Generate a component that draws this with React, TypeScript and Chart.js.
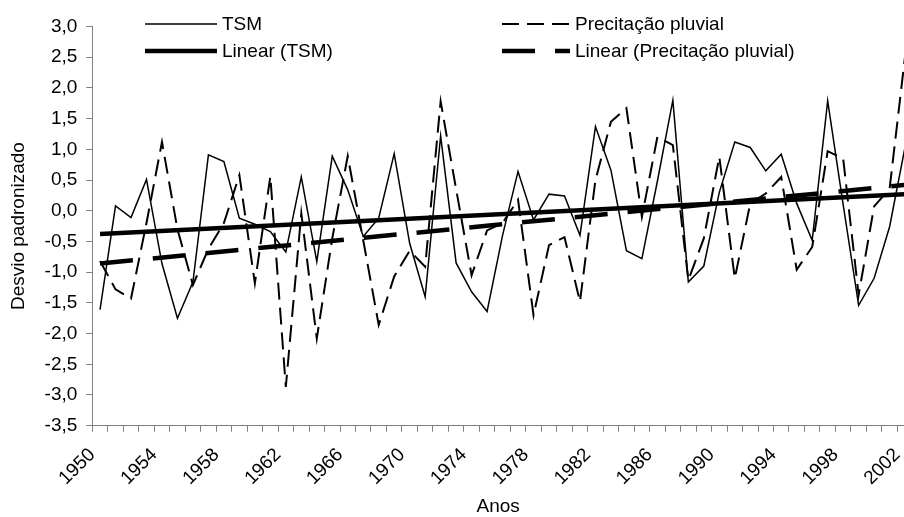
import React, { useEffect, useRef } from 'react';
import { Chart, registerables } from 'chart.js';

Chart.register(...registerables);

// ---- Data ----
const years = [
  1950, 1951, 1952, 1953, 1954, 1955, 1956, 1957, 1958, 1959,
  1960, 1961, 1962, 1963, 1964, 1965, 1966, 1967, 1968, 1969,
  1970, 1971, 1972, 1973, 1974, 1975, 1976, 1977, 1978, 1979,
  1980, 1981, 1982, 1983, 1984, 1985, 1986, 1987, 1988, 1989,
  1990, 1991, 1992, 1993, 1994, 1995, 1996, 1997, 1998, 1999,
  2000, 2001, 2002,
];

const tsm = [
  -1.61, 0.08, -0.11, 0.51, -0.86, -1.75, -1.16, 0.91, 0.8, -0.12,
  -0.22, -0.34, -0.67, 0.55, -0.83, 0.89, 0.34, -0.42, -0.12, 0.93,
  -0.53, -1.4, 1.22, -0.85, -1.32, -1.64, -0.4, 0.64, -0.15, 0.27,
  0.24, -0.4, 1.37, 0.66, -0.65, -0.78, 0.48, 1.8, -1.16, -0.9,
  0.3, 1.12, 1.03, 0.65, 0.92, 0.12, -0.48, 1.79, 0.1, -1.54,
  -1.1, -0.26, 1.04,
];

const precip = [
  -0.82, -1.28, -1.43, -0.2, 1.12, -0.3, -1.21, -0.62, -0.2, 0.58,
  -1.18, 0.56, -2.87, -0.04, -2.08, -0.45, 0.89, -0.48, -1.86, -1.07,
  -0.65, -0.91, 1.78, 0.35, -1.05, -0.32, -0.2, 0.18, -1.7, -0.56,
  -0.43, -1.48, 0.5, 1.45, 1.67, -0.1, 1.2, 1.07, -1.13, -0.45,
  0.88, -1.1, 0.12, 0.28, 0.55, -0.96, -0.59, 0.97, 0.85, -1.37,
  0.07, 0.36, 2.52,
];

// trend lines: values at first and last year
const tsmTrend = [-0.38, 0.27];
const precipTrend = [-0.86, 0.42];

const yTicks = [-3.5, -3, -2.5, -2, -1.5, -1, -0.5, 0, 0.5, 1, 1.5, 2, 2.5, 3];

const seriesLabels = ['TSM', 'Precitação pluvial', 'Linear (TSM)', 'Linear (Precitação pluvial)'];
const axisTitles = { x: 'Anos', y: 'Desvio padronizado' };

// ---- Styles ----
const FONT_FAMILY = "'Liberation Sans', Arial, Helvetica, sans-serif";
const FONT_SIZE = 19;
const AXIS_GRAY = '#808080';

const W = 904;
const H = 517;

const legendPlugin = {
  id: 'gridLegend',
  afterDraw(chart: any) {
    const ctx = chart.ctx;
    const cols = [
      { x: 145, w: 72 },
      { x: 502, w: 68 },
    ];
    const rows = [24, 51];
    const place = [
      [0, 0],
      [1, 0],
      [0, 1],
      [1, 1],
    ];
    chart.data.datasets.forEach((ds: any, i: number) => {
      const [c, r] = place[i];
      const col = cols[c];
      const y = rows[r];
      ctx.save();
      ctx.strokeStyle = ds.borderColor;
      ctx.lineWidth = ds.borderWidth;
      ctx.lineCap = 'butt';
      ctx.setLineDash(ds.borderDash || []);
      ctx.beginPath();
      ctx.moveTo(col.x, y);
      ctx.lineTo(col.x + col.w, y);
      ctx.stroke();
      ctx.setLineDash([]);
      ctx.fillStyle = '#000';
      ctx.font = `${FONT_SIZE}px ${FONT_FAMILY}`;
      ctx.textAlign = 'left';
      ctx.textBaseline = 'middle';
      ctx.fillText(ds.label, col.x + col.w + 5, y + 1);
      ctx.restore();
    });
  },
};

export default function App() {
  const canvasRef = useRef<HTMLCanvasElement | null>(null);

  useEffect(() => {
    const canvas = canvasRef.current;
    if (!canvas) return;
    const xOf = (i: number) => years[i] - years[0] + 0.5;
    const last = years.length - 1;
    const font = { family: FONT_FAMILY, size: FONT_SIZE };

    const chart = new Chart(canvas, {
      type: 'line',
      data: {
        datasets: [
          {
            label: seriesLabels[0],
            data: tsm.map((v, i) => ({ x: xOf(i), y: v })),
            borderColor: '#000',
            borderWidth: 1.5,
            borderDash: [],
            pointRadius: 0,
            tension: 0,
          },
          {
            label: seriesLabels[1],
            data: precip.map((v, i) => ({ x: xOf(i), y: v })),
            borderColor: '#000',
            borderWidth: 2,
            borderDash: [17, 8],
            pointRadius: 0,
            tension: 0,
          },
          {
            label: seriesLabels[2],
            data: [
              { x: xOf(0), y: tsmTrend[0] },
              { x: xOf(last), y: tsmTrend[1] },
            ],
            borderColor: '#000',
            borderWidth: 4.5,
            borderDash: [],
            pointRadius: 0,
            tension: 0,
          },
          {
            label: seriesLabels[3],
            data: [
              { x: xOf(0), y: precipTrend[0] },
              { x: xOf(last), y: precipTrend[1] },
            ],
            borderColor: '#000',
            borderWidth: 4.5,
            borderDash: [33, 20],
            pointRadius: 0,
            tension: 0,
          },
        ] as any,
      },
      options: {
        animation: false,
        responsive: false,
        maintainAspectRatio: false,
        devicePixelRatio: 1,
        layout: { padding: { top: 26.5, left: 0, right: 0, bottom: 0 } },
        plugins: {
          legend: { display: false },
          tooltip: { enabled: false },
        },
        elements: { point: { radius: 0 }, line: { borderCapStyle: 'butt' } },
        scales: {
          x: {
            type: 'linear',
            min: 0,
            max: 52.43,
            afterBuildTicks: (axis: any) => {
              axis.ticks = years.map((_, k) => ({ value: k }));
            },
            afterFit: (axis: any) => {
              axis.height = H - 425.7;
              axis.paddingLeft = 0;
              axis.paddingRight = 0;
            },
            ticks: {
              autoSkip: false,
              minRotation: 45,
              maxRotation: 45,
              padding: 12,
              color: '#000',
              font,
              callback: (v: any) => {
                const k = Math.round(Number(v));
                return k % 4 === 0 && years[k] !== undefined ? String(years[k]) : '';
              },
            },
            grid: {
              drawOnChartArea: false,
              drawTicks: true,
              tickLength: 6,
              color: AXIS_GRAY,
            },
            border: { color: AXIS_GRAY, width: 1 },
            title: {
              display: true,
              text: axisTitles.x,
              color: '#000',
              font,
              padding: { top: 0, bottom: -1 },
            },
          },
          y: {
            type: 'linear',
            min: -3.5,
            max: 3,
            afterBuildTicks: (axis: any) => {
              axis.ticks = yTicks.map((v) => ({ value: v }));
            },
            afterFit: (axis: any) => {
              axis.width = 92.3;
            },
            ticks: {
              padding: 9,
              color: '#000',
              font,
              callback: (v: any) => Number(v).toFixed(1).replace('.', ','),
            },
            grid: {
              drawOnChartArea: false,
              drawTicks: true,
              tickLength: 6,
              color: AXIS_GRAY,
            },
            border: { color: AXIS_GRAY, width: 1 },
            title: {
              display: true,
              text: axisTitles.y,
              color: '#000',
              font,
              padding: { top: 7, bottom: 0 },
            },
          },
        },
      } as any,
      plugins: [legendPlugin],
    });

    return () => {
      chart.destroy();
    };
  }, []);

  return (
    <div
      style={{
        position: 'fixed',
        left: 0,
        top: 0,
        width: W,
        height: H,
        overflow: 'hidden',
        background: '#fff',
      }}
    >
      <canvas ref={canvasRef} width={W} height={H} style={{ display: 'block', width: W, height: H }} />
    </div>
  );
}
